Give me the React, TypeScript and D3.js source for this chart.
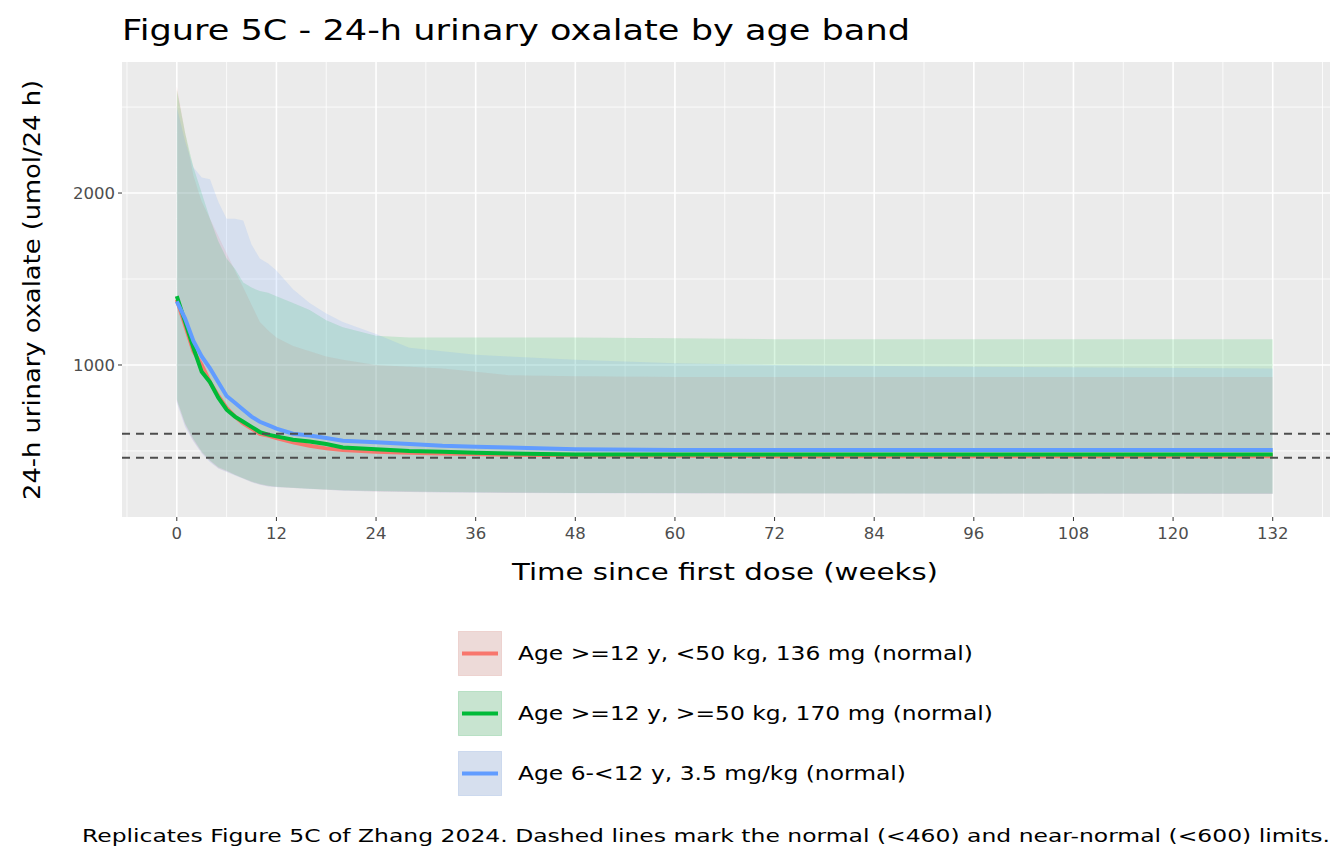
import * as d3 from "d3";

const weeks = [0, 1, 2, 3, 4, 5, 6, 7, 8, 9, 10, 11, 12, 14, 16, 18, 20, 24, 28, 32, 36, 40, 48, 60, 72, 96, 132];

const redMedian = [1380, 1230, 1080, 1000, 900, 820, 750, 700, 660, 630, 600, 590, 575, 550, 530, 515, 505, 495, 490, 485, 482, 478, 475, 472, 470, 470, 470];
const greenMedian = [1400, 1250, 1100, 960, 900, 810, 740, 700, 670, 640, 610, 595, 585, 565, 555, 540, 520, 510, 500, 495, 490, 485, 480, 480, 480, 480, 480];
const blueMedian = [1370, 1270, 1140, 1050, 980, 900, 820, 780, 740, 700, 670, 650, 630, 600, 590, 575, 560, 550, 540, 530, 525, 520, 510, 505, 505, 505, 505];

const redUpper = [2620, 2350, 2100, 1950, 1850, 1750, 1650, 1550, 1450, 1350, 1250, 1200, 1160, 1110, 1080, 1050, 1030, 1000, 990, 980, 960, 940, 935, 930, 930, 930, 930];
const greenUpper = [2600, 2350, 2150, 2000, 1850, 1720, 1620, 1560, 1480, 1450, 1430, 1420, 1400, 1360, 1320, 1260, 1220, 1170, 1160, 1160, 1160, 1160, 1160, 1155, 1150, 1150, 1150];
const blueUpper = [2500, 2300, 2150, 2090, 2080, 1950, 1850, 1850, 1840, 1700, 1620, 1590, 1550, 1440, 1360, 1300, 1250, 1180, 1100, 1080, 1060, 1050, 1030, 1010, 1000, 990, 980];

const redLower = [790, 650, 560, 490, 440, 400, 380, 360, 340, 320, 305, 295, 290, 285, 280, 275, 270, 265, 262, 260, 258, 256, 255, 254, 253, 252, 250];
const greenLower = [800, 660, 570, 495, 445, 405, 385, 362, 342, 322, 308, 298, 292, 286, 281, 276, 272, 267, 264, 262, 260, 258, 256, 255, 254, 253, 252];
const blueLower = [780, 640, 555, 485, 435, 398, 378, 358, 338, 318, 303, 294, 289, 284, 279, 274, 269, 264, 261, 259, 257, 255, 254, 253, 252, 251, 250];

const labels = [
  "Age >=12 y, <50 kg, 136 mg (normal)",
  "Age >=12 y, >=50 kg, 170 mg (normal)",
  "Age 6-<12 y, 3.5 mg/kg (normal)",
];
const labelWidths = [455, 475, 388];
const colors = ["#F8766D", "#00BA38", "#619CFF"];
const limits = [460, 600];
const xTicks = d3.range(0, 133, 12);
const yTicks = [1000, 2000];

const series = [
  { median: redMedian, upper: redUpper, lower: redLower },
  { median: greenMedian, upper: greenUpper, lower: greenLower },
  { median: blueMedian, upper: blueUpper, lower: blueLower },
];

const P = { left: 122, right: 1330, top: 62, bottom: 517 };

export default function App() {
  const x = d3.scaleLinear().domain([-6.6, 138.9]).range([P.left, P.right]);
  const y = d3.scaleLinear().domain([116, 2762]).range([P.bottom, P.top]);
  const minorX = d3.range(-6, 139, 12);
  const minorY = [500, 1500, 2500];

  const font = "DejaVu Sans, sans-serif";
  const fit = "spacingAndGlyphs";

  return (
    <svg width={1344} height={864} style={{ position: "absolute", left: 0, top: 0 }} fontFamily={font}>
      <rect width={1344} height={864} fill="white" />
      <text x={122} y={40} fontSize={29} textLength={788} lengthAdjust={fit} fill="#000">Figure 5C - 24-h urinary oxalate by age band</text>
      <rect x={P.left} y={P.top} width={P.right - P.left} height={P.bottom - P.top} fill="#EBEBEB" />
      {minorX.map(t => (
        <line key={"mx" + t} x1={x(t)} x2={x(t)} y1={P.top} y2={P.bottom} stroke="white" strokeWidth={0.8} />
      ))}
      {minorY.map(t => (
        <line key={"my" + t} x1={P.left} x2={P.right} y1={y(t)} y2={y(t)} stroke="white" strokeWidth={0.8} />
      ))}
      {xTicks.map(t => (
        <line key={"gx" + t} x1={x(t)} x2={x(t)} y1={P.top} y2={P.bottom} stroke="white" strokeWidth={1.6} />
      ))}
      {yTicks.map(t => (
        <line key={"gy" + t} x1={P.left} x2={P.right} y1={y(t)} y2={y(t)} stroke="white" strokeWidth={1.6} />
      ))}
      {series.map((s, k) => {
        const a = d3
          .area<number>()
          .x((_, i) => x(weeks[i]))
          .y0((_, i) => y(s.lower[i]))
          .y1((_, i) => y(s.upper[i]));
        return <path key={"r" + k} d={a(weeks) ?? ""} fill={colors[k]} fillOpacity={0.15} />;
      })}
      {series.map((s, k) => {
        const l = d3
          .line<number>()
          .x((_, i) => x(weeks[i]))
          .y((_, i) => y(s.median[i]));
        return <path key={"l" + k} d={l(weeks) ?? ""} fill="none" stroke={colors[k]} strokeWidth={4} />;
      })}
      {limits.map(v => (
        <line key={"d" + v} x1={P.left} x2={P.right} y1={y(v)} y2={y(v)} stroke="#4d4d4d" strokeWidth={2} strokeDasharray="8 6" />
      ))}
      {xTicks.map(t => (
        <g key={"tx" + t} transform={`translate(${x(t)},${P.bottom})`}>
          <line y2={4} stroke="#333" strokeWidth={1} />
          <text y={22} textAnchor="middle" fontSize={16.5} fill="#4d4d4d">{t}</text>
        </g>
      ))}
      {yTicks.map(t => (
        <g key={"ty" + t} transform={`translate(${P.left},${y(t)})`}>
          <line x2={-4} stroke="#333" strokeWidth={1} />
          <text x={-7} dy="0.35em" textAnchor="end" fontSize={16.5} fill="#4d4d4d">{t}</text>
        </g>
      ))}
      <text x={512} y={580} fontSize={23} textLength={426} lengthAdjust={fit}>Time since first dose (weeks)</text>
      <text transform={`translate(40,500) rotate(-90)`} fontSize={23} textLength={420} lengthAdjust={fit}>24-h urinary oxalate (umol/24 h)</text>
      {labels.map((lab, k) => (
        <g key={"lg" + k} transform={`translate(458,${631 + k * 60})`}>
          <rect width={44} height={45} fill="#EBEBEB" />
          <rect x={0.5} y={0.5} width={43} height={44} fill={colors[k]} fillOpacity={0.15} stroke={colors[k]} strokeOpacity={0.15} />
          <line x1={4} x2={40} y1={22.5} y2={22.5} stroke={colors[k]} strokeWidth={4} />
          <text x={60} y={22.5} dy="0.35em" fontSize={19} textLength={labelWidths[k]} lengthAdjust={fit}>{lab}</text>
        </g>
      ))}
      <text x={82} y={842} fontSize={17.5} textLength={1248} lengthAdjust={fit}>
        Replicates Figure 5C of Zhang 2024. Dashed lines mark the normal (&lt;460) and near-normal (&lt;600) limits.
      </text>
    </svg>
  );
}
